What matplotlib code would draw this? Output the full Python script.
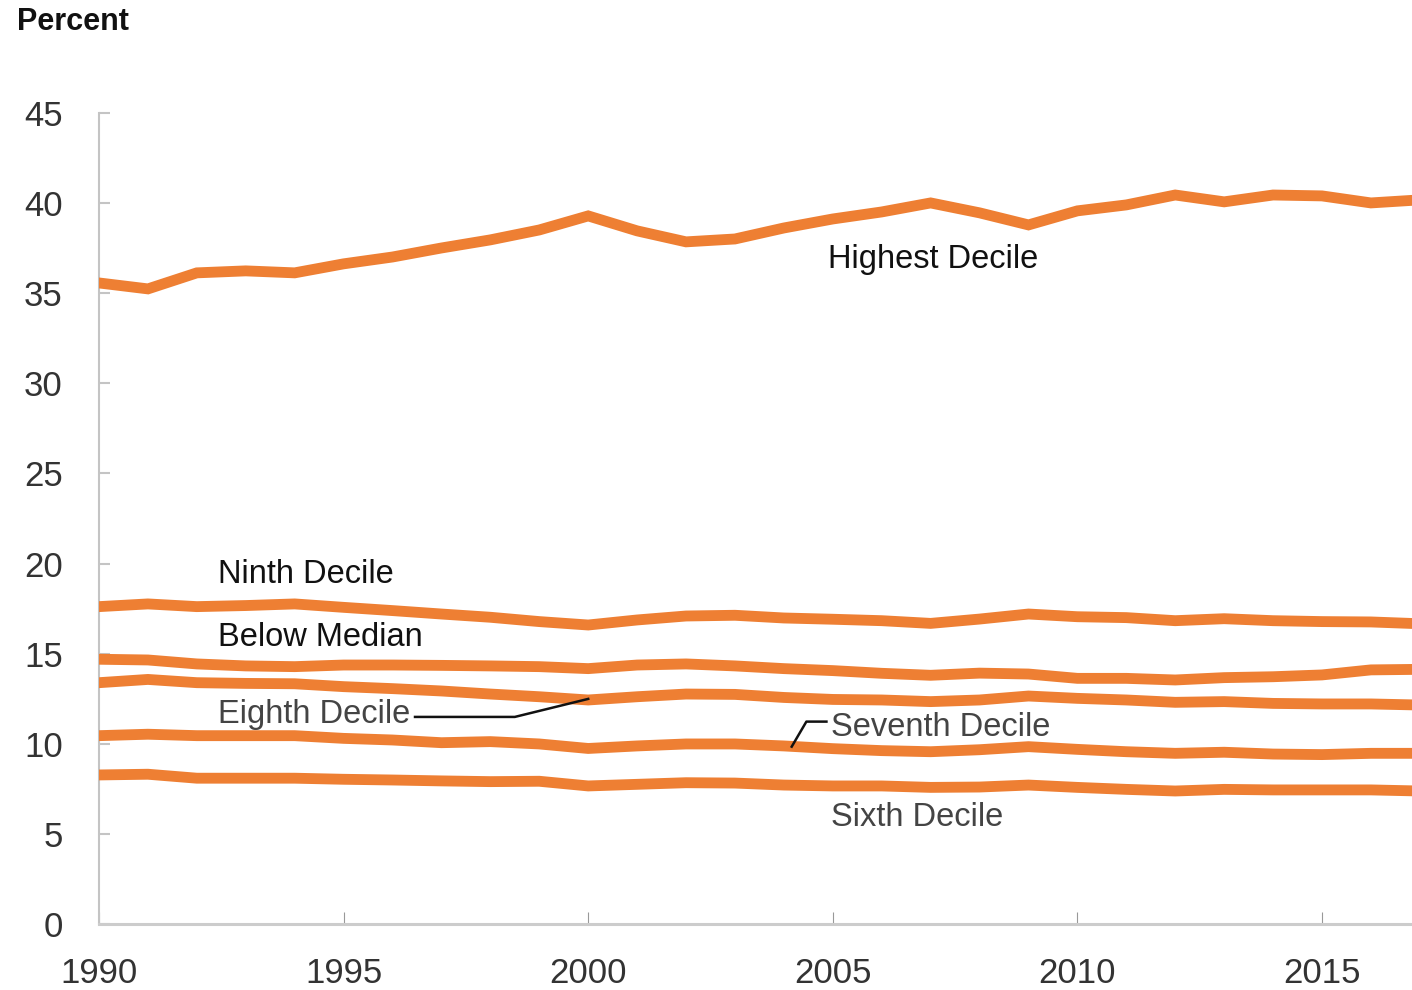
import matplotlib
matplotlib.use("Agg")
import matplotlib.pyplot as plt

years = list(range(1990, 2018))

highest = [35.57, 35.24, 36.13, 36.24, 36.13, 36.63, 37.01, 37.51, 37.96, 38.51,
           39.29, 38.46, 37.85, 38.01, 38.62, 39.12, 39.51, 40.01, 39.46, 38.79,
           39.57, 39.90, 40.45, 40.07, 40.45, 40.40, 40.01, 40.18]
ninth = [17.61, 17.76, 17.61, 17.67, 17.76, 17.57, 17.39, 17.20, 17.02, 16.78,
         16.59, 16.87, 17.09, 17.13, 16.98, 16.91, 16.83, 16.68, 16.92, 17.20,
         17.05, 17.00, 16.83, 16.94, 16.83, 16.78, 16.76, 16.66]
below_median = [14.69, 14.65, 14.43, 14.32, 14.28, 14.37, 14.37, 14.35, 14.32, 14.28,
                14.17, 14.37, 14.43, 14.32, 14.17, 14.06, 13.91, 13.80, 13.92, 13.87,
                13.63, 13.63, 13.54, 13.67, 13.72, 13.82, 14.10, 14.13]
eighth = [13.39, 13.57, 13.39, 13.35, 13.33, 13.17, 13.06, 12.93, 12.76, 12.61,
          12.43, 12.61, 12.76, 12.74, 12.57, 12.46, 12.43, 12.34, 12.43, 12.65,
          12.52, 12.43, 12.30, 12.34, 12.24, 12.21, 12.21, 12.15]
seventh = [10.45, 10.53, 10.45, 10.45, 10.45, 10.30, 10.21, 10.06, 10.12, 9.99,
           9.74, 9.88, 9.99, 9.99, 9.88, 9.73, 9.62, 9.56, 9.67, 9.84,
           9.69, 9.56, 9.47, 9.53, 9.43, 9.40, 9.47, 9.47]
sixth = [8.27, 8.31, 8.09, 8.09, 8.09, 8.03, 7.99, 7.94, 7.90, 7.92,
         7.66, 7.75, 7.84, 7.82, 7.71, 7.66, 7.66, 7.58, 7.60, 7.71,
         7.58, 7.47, 7.38, 7.47, 7.44, 7.44, 7.44, 7.38]

series = [highest, ninth, below_median, eighth, seventh, sixth]

x_ticks = [1990, 1995, 2000, 2005, 2010, 2015]
y_ticks = [0, 5, 10, 15, 20, 25, 30, 35, 40, 45]

ORANGE = "#EE7F33"
TICKFONT = ["Liberation Sans", "DejaVu Sans"]
LABFONT = ["Liberation Sans", "DejaVu Sans"]

fig = plt.figure(figsize=(14.12, 9.9), dpi=100)
ax = fig.add_axes([99 / 1412, 66 / 990, 1 - 99 / 1412, (924 - 113) / 990])

for s in series:
    ax.plot(years, s, color=ORANGE, lw=7.8, solid_joinstyle="miter", zorder=3)

ax.set_xlim(1990, 2016.84)
ax.set_ylim(0, 45)
ax.set_xticks(x_ticks)
ax.set_yticks(y_ticks)

for side in ["top", "right"]:
    ax.spines[side].set_visible(False)
ax.spines["left"].set_color("#c4c4c4")
ax.spines["left"].set_linewidth(1.5)
ax.spines["bottom"].set_color("#cccccc")
ax.spines["bottom"].set_linewidth(2.2)

ax.tick_params(axis="y", direction="in", length=8, width=1.5, color="#c4c4c4",
               pad=26, labelsize=25, labelcolor="#333333")
ax.tick_params(axis="x", direction="in", length=9, width=0.8, color="#999999",
               pad=24, labelsize=25, labelcolor="#333333")
for lab in ax.get_xticklabels() + ax.get_yticklabels():
    lab.set_family(TICKFONT)

fig.text(17 / 1412, 1 - 22 / 990, "Percent", family=TICKFONT, fontweight="bold",
         fontsize=22, color="#111111", ha="left", va="center")

lab_kw = dict(family=LABFONT, fontsize=23.5, ha="left", va="center", zorder=4)
ax.text(2004.90, 36.86, "Highest Decile", color="#111111", **lab_kw)
ax.text(1992.43, 19.38, "Ninth Decile", color="#111111", **lab_kw)
ax.text(1992.43, 15.89, "Below Median", color="#111111", **lab_kw)
ax.text(1992.43, 11.60, "Eighth Decile", color="#444444", **lab_kw)
ax.text(2004.96, 10.92, "Seventh Decile", color="#444444", **lab_kw)
ax.text(2004.96, 5.92, "Sixth Decile", color="#444444", **lab_kw)

# leader lines
ax.plot([1996.46, 1998.50, 2000.0], [11.49, 11.49, 12.49], color="#111111", lw=1.8, zorder=4)
ax.plot([2004.87, 2004.46, 2004.16], [11.23, 11.23, 9.84], color="#111111", lw=1.8, zorder=4)

fig.savefig("out.png", dpi=100)
